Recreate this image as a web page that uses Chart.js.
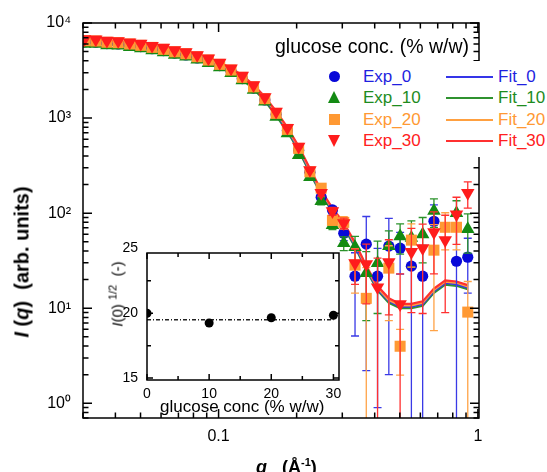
<!DOCTYPE html>
<html><head><meta charset="utf-8">
<script src="https://cdn.jsdelivr.net/npm/chart.js@4.4.0/dist/chart.umd.min.js"></script>
<style>
html,body{margin:0;padding:0;background:#fff;}
#wrap{position:relative;width:547px;height:472px;overflow:hidden;font-family:"Liberation Sans",Arial,Helvetica,sans-serif;color:#000;}
canvas{position:absolute;}
#main{left:0;top:0;}
#inset{left:100px;top:235px;}
.t{position:absolute;white-space:nowrap;line-height:20px;}
.rot{position:absolute;white-space:nowrap;transform:translate(-50%,-50%) rotate(-90deg);}
.ln{position:absolute;height:2px;}
</style></head><body>
<div id="wrap">
<canvas id="main" width="547" height="472"></canvas>
<canvas id="inset" width="250" height="190"></canvas>

<div class="t" style="left:275px;top:36px;font-size:19.5px;">glucose conc. (% w/w)</div>
<div style="position:absolute;left:318px;top:61px;width:229px;height:96px;background:#fff;"></div>
<div style="position:absolute;left:329px;top:71px;width:11px;height:11px;border-radius:50%;background:#0808d8;"></div>
<div style="position:absolute;left:328px;top:91px;width:0;height:0;border-left:6.5px solid transparent;border-right:6.5px solid transparent;border-bottom:12px solid #138a13;"></div>
<div style="position:absolute;left:329px;top:114px;width:11px;height:11px;background:#ff9933;"></div>
<div style="position:absolute;left:328px;top:135px;width:0;height:0;border-left:6.5px solid transparent;border-right:6.5px solid transparent;border-top:12px solid #ff1c1c;"></div>
<div class="t" style="left:363px;top:67px;font-size:17px;color:#1f1fe0;">Exp_0</div>
<div class="t" style="left:363px;top:88px;font-size:17px;color:#1e8c1e;">Exp_10</div>
<div class="t" style="left:363px;top:110px;font-size:17px;color:#ff9933;">Exp_20</div>
<div class="t" style="left:363px;top:131px;font-size:17px;color:#ff2020;">Exp_30</div>
<div class="ln" style="left:446px;top:76px;width:47px;background:#3535e8;"></div>
<div class="ln" style="left:446px;top:97px;width:47px;background:#2f922f;"></div>
<div class="ln" style="left:446px;top:119px;width:47px;background:#ffa040;"></div>
<div class="ln" style="left:446px;top:140px;width:47px;background:#ff3030;"></div>
<div class="t" style="left:498px;top:67px;font-size:17px;color:#1f1fe0;">Fit_0</div>
<div class="t" style="left:498px;top:88px;font-size:17px;color:#1e8c1e;">Fit_10</div>
<div class="t" style="left:498px;top:110px;font-size:17px;color:#ff9933;">Fit_20</div>
<div class="t" style="left:498px;top:131px;font-size:17px;color:#ff2020;">Fit_30</div>

<div class="rot" style="left:22px;top:262px;font-size:20px;font-weight:bold;"><i>I</i> (<i>q</i>)&nbsp; (arb. units)</div>
<div class="t" style="left:256px;top:452px;font-size:18px;font-weight:bold;"><i>q</i>&nbsp;&nbsp; (Å<sup style="font-size:11px;">-1</sup>)</div>

<div class="rot" style="left:116px;top:294px;font-size:15px;"><i>I</i>(0)&nbsp;<sup style="font-size:11px;">1/2</sup>&nbsp;&nbsp;(-)</div>
<div class="t" style="left:160px;top:397px;font-size:17px;">glucose conc (% w/w)</div>
</div>

<script>
// ---------- data ----------
const q = [0.0304,0.0336,0.0371,0.0410,0.0454,0.0501,0.0554,0.0613,0.0677,0.0748,0.0827,0.0914,0.1010,0.1117,0.1234,0.1364,0.1508,0.1667,0.1842,0.2036,0.2250,0.2487,0.2749,0.3039,0.3359,0.3712,0.4103,0.4535,0.5013,0.5541,0.6124,0.6769,0.7482,0.8270,0.9141];

const exp0  = [6310,6280,6080,6020,5830,5650,5370,5120,4830,4610,4290,3960,3560,3100,2600,2070,1550,1090,740,460,270,147,108,61.5,21.7,47.2,21.7,45,42.8,27.7,21.7,82,null,31.2,34.4];
const exp10 = [6050,6020,5830,5780,5590,5410,5150,4910,4630,4420,4110,3790,3410,2980,2490,1980,1490,1030,690,408,239,134,75,48.3,43.9,23.4,29.8,45,57,55,60,106,null,100,68];
const exp20 = [6510,6470,6270,6210,6010,5820,5540,5280,4980,4750,4420,4080,3670,3200,2680,2130,1600,1120,760,480,272,183,84,80,28.4,12.7,null,26.4,3.98,52,null,40.8,71,71,9.1];
const exp30 = [6770,6730,6520,6460,6250,6050,5760,5490,5180,4940,4600,4240,3820,3330,2790,2220,1660,1170,790,500,284,163,105,78.5,29.8,29.1,16.6,30.5,11.0,39,42.8,63,52,97,163];

const err0  = [80,80,75,75,70,70,65,65,60,55,55,50,45,40,35,30,25,20,15,12,8,12,10,10,16.6,45,20.8,43,20,30,24,40,null,33,20];
const err10 = [75,75,70,70,65,65,60,60,55,55,50,45,40,38,33,28,24,18,14,10,8,12,8,8,13,16,21,20,20,28,30,35,null,35,30];
const err20 = [80,80,75,75,70,70,65,65,60,55,55,50,45,40,35,30,25,20,15,12,8,14,9,12,14,14,null,19,2,25,null,35,30,30,10];
const err30 = [80,80,75,75,70,70,65,65,60,55,55,50,45,40,35,30,25,20,15,12,8,12,10,10,12,18,17,22,12,30,34,40,43,50,50];

const fit0  = [6390,6340,6190,6090,5920,5730,5480,5210,4920,4670,4360,4020,3620,3170,2650,2110,1580,1110,752,475,277,163,107,74,46,26.2,16.0,11.9,10.4,10.4,11.1,15.1,18.4,17.9,16.4];
const fit10 = [6130,6080,5940,5840,5680,5500,5260,5000,4720,4480,4180,3860,3480,3040,2550,2020,1520,1060,722,456,266,157,103,71,44.2,25.2,15.4,11.4,10.0,10.0,10.6,14.5,17.7,17.2,15.8];
const fit20 = [6580,6530,6380,6270,6100,5910,5650,5370,5070,4810,4490,4140,3730,3260,2730,2170,1630,1140,775,490,286,168,110,76.5,47.4,27.0,16.5,12.2,10.7,10.7,11.4,15.6,19.0,18.5,16.9];
const fit30 = [6770,6720,6560,6460,6280,6080,5820,5520,5220,4960,4620,4260,3840,3360,2810,2240,1680,1180,800,505,294,173,113,79,49,28,17.1,12.7,11.1,11.1,11.8,16.1,19.6,19.1,17.5];

const xTickValues = [0.1, 1];
const xTickLabels = ['0.1', '1'];
const yTickValues = [1, 10, 100, 1000, 10000];
const yTickLabels = ['10\u2070', '10\u00b9', '10\u00b2', '10\u00b3', '10\u2074'];

const insetConc = [0, 10, 20, 30];
const insetI0 = [20.0, 19.25, 19.65, 19.85];
const insetMeanX = [0, 30];
const insetMean = [19.5, 19.5];
const insetXTicks = [0, 10, 20, 30];
const insetYTicks = [15, 20, 25];

// ---------- helpers ----------
const FONT = '"Liberation Sans", Arial, Helvetica, sans-serif';
function pts(ys, es){ const o=[]; q.forEach((x,i)=>{ if(ys[i]!=null) o.push({x:x, y:ys[i], e: es? es[i] : null}); }); return o; }
function logTicks(min,max){ const o=[]; for(let e=Math.floor(Math.log10(min)); e<=Math.ceil(Math.log10(max)); e++){ for(let k=1;k<10;k++){ const v=k*Math.pow(10,e); if(v>=min*0.9999 && v<=max*1.0001) o.push({v:v, major:k===1}); } } return o; }

const errorBars = {
  id:'errorBars',
  beforeDatasetDraw(chart, args){
    const ds = chart.data.datasets[args.index];
    if(!ds.errColor) return;
    const ctx = chart.ctx, a = chart.chartArea, xs = chart.scales.x, ys = chart.scales.y;
    ctx.save(); ctx.beginPath(); ctx.rect(a.left, a.top, a.right-a.left, a.bottom-a.top); ctx.clip();
    ctx.strokeStyle = ds.errColor; ctx.lineWidth = 1.3;
    ds.data.forEach(p=>{
      if(p.e==null) return;
      const px = xs.getPixelForValue(p.x);
      const hi = ys.getPixelForValue(p.y + p.e);
      const lov = p.y - p.e;
      const ok = lov > ys.min;
      const lo = ok ? ys.getPixelForValue(lov) : a.bottom + 3;
      ctx.beginPath();
      ctx.moveTo(px, hi); ctx.lineTo(px, lo);
      ctx.moveTo(px-4, hi); ctx.lineTo(px+4, hi);
      if(ok){ ctx.moveTo(px-4, lo); ctx.lineTo(px+4, lo); }
      ctx.stroke();
    });
    ctx.restore();
  }
};

const frameTicks = {
  id:'frameTicks',
  afterDraw(chart, args, o){
    const ctx = chart.ctx, a = chart.chartArea, xs = chart.scales.x, ys = chart.scales.y;
    ctx.save(); ctx.strokeStyle='#000'; ctx.lineWidth = o.lw;
    ctx.strokeRect(a.left, a.top, a.right-a.left, a.bottom-a.top);
    ctx.beginPath();
    o.xt.forEach(t=>{ const p = xs.getPixelForValue(t.v); if(p < a.left-0.5 || p > a.right+0.5) return; const L = t.major? o.maj : o.min;
      ctx.moveTo(p, a.bottom); ctx.lineTo(p, a.bottom-L); ctx.moveTo(p, a.top); ctx.lineTo(p, a.top+L); });
    o.yt.forEach(t=>{ const p = ys.getPixelForValue(t.v); if(p < a.top-0.5 || p > a.bottom+0.5) return; const L = t.major? o.maj : o.min;
      ctx.moveTo(a.left, p); ctx.lineTo(a.left+L, p); ctx.moveTo(a.right, p); ctx.lineTo(a.right-L, p); });
    ctx.stroke(); ctx.restore();
  }
};

const whiteArea = {
  id:'whiteArea',
  beforeDraw(chart){ const a = chart.chartArea; chart.ctx.save(); chart.ctx.fillStyle='#fff'; chart.ctx.fillRect(a.left,a.top,a.right-a.left,a.bottom-a.top); chart.ctx.restore(); }
};

// ---------- main chart ----------
const XMIN = 0.03, XMAX = 1.01, YMIN = 0.7, YMAX = 10000;
function expDS(label, ys, es, color, ecolor, style, radius, rot, order){
  return { label, data: pts(ys, es), showLine:false, pointStyle:style, pointRadius:radius, pointRotation:rot,
    pointBackgroundColor:color, pointBorderColor:color, pointBorderWidth:0, borderColor:color, errColor:ecolor, order };
}
function fitDS(label, ys, color, order){
  return { label, data: pts(ys, null), showLine:true, pointRadius:0, borderColor:color, borderWidth:2.2, tension:0, fill:false, order };
}
const datasets = [
  expDS('Exp_0', exp0, err0, '#0808d8', '#3a3ae6', 'circle', 5.6, 0, 3),
  expDS('Exp_10', exp10, err10, '#138a13', '#2a922a', 'triangle', 7.8, 0, 2),
  expDS('Exp_20', exp20, err20, '#ff9933', '#ffa347', 'rect', 7.8, 0, 1),
  expDS('Exp_30', exp30, err30, '#ff1c1c', '#ff3030', 'triangle', 7.8, 180, 0),
  fitDS('Fit_0', fit0, '#3535e8', 6),
  fitDS('Fit_10', fit10, '#2f922f', 7),
  fitDS('Fit_20', fit20, '#ffa040', 5),
  fitDS('Fit_30', fit30, '#ff3030', 4)
];

new Chart(document.getElementById('main'), {
  type:'line',
  data:{ datasets },
  plugins:[errorBars, frameTicks],
  options:{
    responsive:false, animation:false, events:[],
    layout:{ padding:{ left:0, right:68, top:23, bottom:0 } },
    plugins:{ legend:{display:false}, tooltip:{enabled:false},
      frameTicks:{ lw:1.5, maj:9, min:5.5, xt:logTicks(XMIN, XMAX), yt:logTicks(YMIN, YMAX) } },
    scales:{
      x:{ type:'logarithmic', min:XMIN, max:XMAX, grid:{display:false, drawTicks:false}, border:{display:false},
        afterBuildTicks:s=>{ s.ticks = xTickValues.map(v=>({value:v})); },
        afterFit:s=>{ s.height = 54; },
        ticks:{ autoSkip:false, maxRotation:0, padding:9, color:'#000', font:{family:FONT, size:16},
          callback:(v,i)=>xTickLabels[i] } },
      y:{ type:'logarithmic', min:YMIN, max:YMAX, grid:{display:false, drawTicks:false}, border:{display:false},
        afterBuildTicks:s=>{ s.ticks = yTickValues.map(v=>({value:v})); },
        afterFit:s=>{ s.width = 83; },
        ticks:{ autoSkip:false, padding:12, color:'#000', font:{family:FONT, size:16},
          callback:(v,i)=>yTickLabels[i] } }
    }
  }
});

// ---------- inset ----------
new Chart(document.getElementById('inset'), {
  type:'line',
  data:{ datasets:[
    { data: insetConc.map((x,i)=>({x, y:insetI0[i]})), showLine:false, pointRadius:4.5, pointBackgroundColor:'#000', pointBorderWidth:0, borderColor:'#000', order:0 },
    { data: insetMeanX.map((x,i)=>({x, y:insetMean[i]})), showLine:true, pointRadius:0, borderColor:'#222', borderWidth:1.3, borderDash:[4,2,1,2], order:1 }
  ]},
  plugins:[whiteArea, frameTicks],
  options:{
    responsive:false, animation:false, events:[],
    layout:{ padding:{ left:0, right:11, top:18, bottom:0 } },
    plugins:{ legend:{display:false}, tooltip:{enabled:false},
      frameTicks:{ lw:1.5, maj:6, min:4,
        xt:[{v:0,major:true},{v:5},{v:10,major:true},{v:15},{v:20,major:true},{v:25},{v:30,major:true}],
        yt:[{v:15,major:true},{v:17.5},{v:20,major:true},{v:22.5},{v:25,major:true}] } },
    scales:{
      x:{ type:'linear', min:0, max:30.9, grid:{display:false, drawTicks:false}, border:{display:false},
        afterBuildTicks:s=>{ s.ticks = insetXTicks.map(v=>({value:v})); },
        afterFit:s=>{ s.height = 45; },
        ticks:{ autoSkip:false, maxRotation:0, padding:6, color:'#000', font:{family:FONT, size:14},
          callback:(v)=>String(v) } },
      y:{ type:'linear', min:14.85, max:24.65, grid:{display:false, drawTicks:false}, border:{display:false},
        afterBuildTicks:s=>{ s.ticks = insetYTicks.map(v=>({value:v})); },
        afterFit:s=>{ s.width = 47; },
        ticks:{ autoSkip:false, padding:9, color:'#000', font:{family:FONT, size:14},
          callback:(v)=>String(v) } }
    }
  }
});
</script>
</body></html>
